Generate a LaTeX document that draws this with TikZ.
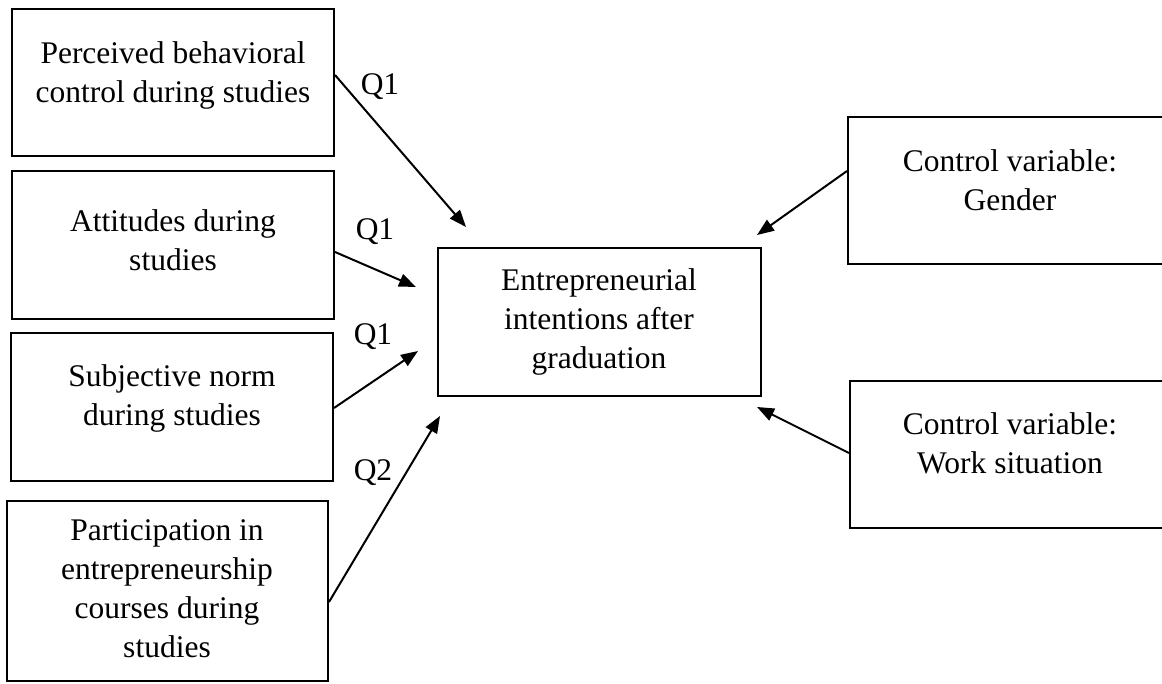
\documentclass[tikz,border=0pt]{standalone}
\usepackage{fontspec}
\setmainfont{Liberation Serif}
\usetikzlibrary{arrows.meta}
\tikzset{
	box/.style={draw,line width=2pt,rectangle,inner sep=0pt},
	txt/.style={align=center,anchor=north,inner sep=0pt,font=\fontsize{31.5}{39}\selectfont},
	lbl/.style={inner sep=0pt,font=\fontsize{31.5}{39}\selectfont},
	arr/.style={line width=2pt,-{Triangle[length=17pt,width=13pt]}}
}

\begin{document}
\begin{tikzpicture}[x=1pt,y=-1pt]
	\useasboundingbox (0,0) rectangle (1162,684);
	%LEFT BOXES
	\node[box,minimum width=322pt,minimum height=147pt] (pbc)  at (173,82.5) {};
	\node[box,minimum width=322pt,minimum height=148pt] (att)  at (173,245) {};
	\node[box,minimum width=322pt,minimum height=148pt] (norm) at (172,407) {};
	\node[box,minimum width=321pt,minimum height=180pt] (part) at (167.5,591) {};
	%
	\node[txt] (pbctxt)  at (173,41)  {Perceived behavioral\\control during studies};
	\node[txt] (atttxt)  at (173,209) {Attitudes during\\studies};
	\node[txt] (normtxt) at (172,364) {Subjective norm\\during studies};
	\node[txt] (parttxt) at (167,519) {Participation in\\entrepreneurship\\courses during\\studies};
	
	%OUTCOME
	\node[box,minimum width=323pt,minimum height=148pt] (intent) at (599.5,322) {};
	\node[txt] (intenttxt) at (599,268) {Entrepreneurial\\intentions after\\graduation};
	
	%CONTROL VARIABLES
	\node[box,minimum width=324pt,minimum height=147pt] (gender) at (1010,190.5) {};
	\node[box,minimum width=322pt,minimum height=147pt] (work)   at (1011,454.5) {};
	\node[txt] (gendertxt) at (1010,149) {Control variable:\\Gender};
	\node[txt] (worktxt)   at (1010,412) {Control variable:\\Work situation};
	
	%ARROWS
	\coordinate (tipa) at (466,227);
	\coordinate (tipb) at (416,287);
	\coordinate (tipc) at (418,351);
	\coordinate (tipd) at (440,416);
	\coordinate (tipe) at (757,235);
	\coordinate (tipf) at (757,407);
	%
	\draw[arr] ([yshift=7.5pt]pbc.east) -- (tipa);
	\draw[arr] ([yshift=-7pt]att.east) -- (tipb);
	\draw[arr] ([yshift=-1pt]norm.east) -- (tipc);
	\draw[arr] ([yshift=-11pt]part.east) -- (tipd);
	\draw[arr] ([yshift=19.5pt]gender.west) -- (tipe);
	\draw[arr] ([yshift=1.5pt]work.west) -- (tipf);
	
	%CAPTIONS
	\node[lbl] (qa) at (380,87)  {Q1};
	\node[lbl] (qb) at (375,232) {Q1};
	\node[lbl] (qc) at (373,337) {Q1};
	\node[lbl] (qd) at (373,473) {Q2};
\end{tikzpicture}
\end{document}
